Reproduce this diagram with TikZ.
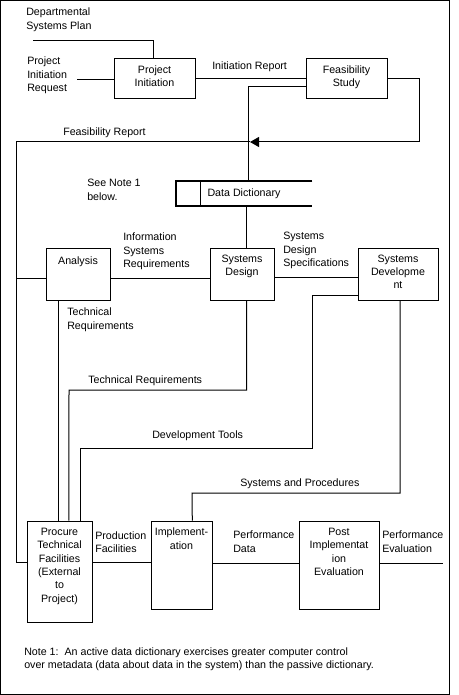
\documentclass[tikz,border=0pt]{standalone}
\usepackage{fontspec}
\setmainfont{Liberation Sans}
\usetikzlibrary{arrows.meta}
\begin{document}
\begin{tikzpicture}[x=0.75pt,y=-0.75pt,font=\fontsize{8}{10}\selectfont]
        \tikzstyle{line} = [line width=0.75pt]
        \tikzstyle{arr} = [line, -{Triangle[length=6.75pt,width=7.5pt]}]
        \tikzstyle{store} = [line width=1.5pt]
        \tikzstyle{rec} = [rectangle, draw=black, line width=0.75pt, inner sep=0pt]
        \tikzstyle{intxt} = [align=center, inner sep=0pt, anchor=north]
        \tikzstyle{txt} = [align=left, inner sep=0pt, anchor=north west]

        \useasboundingbox (0,0) rectangle (459,695);
        \draw[line] (0.5,0.5) rectangle (449.5,694);

        % boxes
        \node(projinit) [rec, minimum width=60.75pt, minimum height=30pt,
        label={[intxt,yshift=-5pt]north:Project\\Initiation}] at (154.5,79) {};
        \node(feas) [rec, minimum width=60.75pt, minimum height=30pt,
        label={[intxt,yshift=-5pt]north:Feasibility\\Study}] at (346.5,79) {};
        \node(datadict) [minimum width=102pt, minimum height=18pt, inner sep=0pt]
        at (244,193.5) {Data Dictionary};
        \node(analysis) [rec, minimum width=48pt, minimum height=39pt,
        label={[intxt,yshift=-6.5pt]north:Analysis}] at (78,274) {};
        \node(sysdesign) [rec, minimum width=48pt, minimum height=39pt,
        label={[intxt,yshift=-5.25pt]north:Systems\\Design}] at (242,274) {};
        \node(sysdev) [rec, minimum width=60pt, minimum height=39pt,
        label={[intxt,yshift=-5.25pt]north:Systems\\Developme\\nt}] at (398,274) {};
        \node(procure) [rec, minimum width=48.75pt, minimum height=75.75pt,
        label={[intxt,yshift=-5.5pt]north:Procure\\Technical\\Facilities\\(External\\to\\Project)}]
        at (59.5,571.5) {};
        \node(impl) [rec, minimum width=45.75pt, minimum height=66pt,
        label={[intxt,yshift=-5.5pt]north:Implement-\\ation}] at (181.5,565) {};
        \node(postimpl) [rec, minimum width=60pt, minimum height=66pt,
        label={[intxt,yshift=-5.5pt]north:Post\\Implementat\\ion\\Evaluation}] at (339,565) {};

        % data store outline
        \draw[store] (datadict.north east) -- (datadict.north west)
        -- (datadict.south west) -- (datadict.south east);
        \draw[line] ([xshift=18.5pt]datadict.north west) -- ([xshift=18.5pt]datadict.south west);

        % free ends
        \coordinate (planin) at (33,41);
        \coordinate (reqin) at (77,80);
        \coordinate (fbtip) at (250,142);
        \coordinate (rail) at (16,142);
        \coordinate (evalout) at (443,563);

        % texts
        \node(plan) [txt] at (26,8) {Departmental\\Systems Plan};
        \node(req) [txt] at (27,57) {Project\\Initiation\\Request};
        \node(initrep) [txt] at (212,62) {Initiation Report};
        \node(feasrep) [txt] at (63,128) {Feasibility Report};
        \node(seenote) [txt] at (87,179) {See Note 1\\below.};
        \node(isreq) [txt] at (123,233) {Information\\Systems\\Requirements};
        \node(sdspec) [txt] at (283,232) {Systems\\Design\\Specifications};
        \node(techreqa) [txt] at (67,308) {Technical\\Requirements};
        \node(techreqb) [txt] at (88,376) {Technical Requirements};
        \node(devtools) [txt] at (152,431) {Development Tools};
        \node(sysproc) [txt] at (240,478) {Systems and Procedures};
        \node(prodfac) [txt] at (95,531) {Production\\Facilities};
        \node(perfdata) [txt] at (233,531) {Performance\\Data};
        \node(perfeval) [txt] at (382,531) {Performance\\Evaluation};
        \node(note) [txt] at (24,647) {Note 1:\ \ An active data dictionary exercises greater computer control\\over metadata (data about data in the system) than the passive dictionary.};

        % connectors
        \draw[line] (planin) -| ([xshift=-1pt]projinit.north);
        \draw[line] (reqin) -- (reqin -| projinit.west);
        \draw[line] (projinit) -- (feas);
        \draw[line] ([yshift=-6pt]feas.west) -| ([xshift=3pt]datadict.north);
        \draw[arr] (feas.east) -| (419,142) -- (fbtip);
        \draw[line] (fbtip) -- (rail) |- ([yshift=6.4pt]procure.west);
        \draw[line] ([xshift=3pt]sysdesign.north) -- ([xshift=3pt]sysdesign.north |- datadict.south);
        \draw[line] ([yshift=-3pt]analysis.west) -- ([yshift=-3pt]analysis.west -| rail);
        \draw[line] ([yshift=-3pt]analysis.east) -- ([yshift=-3pt]analysis.east -| sysdesign.west);
        \draw[line] ([yshift=-2.5pt]sysdesign.east) -- ([yshift=-2.5pt]sysdesign.east -| sysdev.west);
        \draw[line] ([xshift=-14.5pt]analysis.south) -- ([xshift=-14.5pt]analysis.south |- procure.north);
        \draw[line] ([xshift=3.5pt]sysdesign.south) |- (69,390) -- ([xshift=7.1pt]procure.north);
        \draw[line] ([yshift=-15.75pt]sysdev.west) -| (312,448) -| ([xshift=15.4pt]procure.north);
        \draw[line] ([xshift=1.5pt]sysdev.south) |- (192,493) -- ([xshift=8.1pt]impl.north);
        \draw[line] ([yshift=6.4pt]procure.east) -- ([yshift=6.4pt]procure.east -| impl.west);
        \draw[line] ([yshift=1.5pt]impl.east) -- ([yshift=1.5pt]impl.east -| postimpl.west);
        \draw[line] ([yshift=1.5pt]postimpl.east) -- (evalout);
    \end{tikzpicture}
\end{document}
